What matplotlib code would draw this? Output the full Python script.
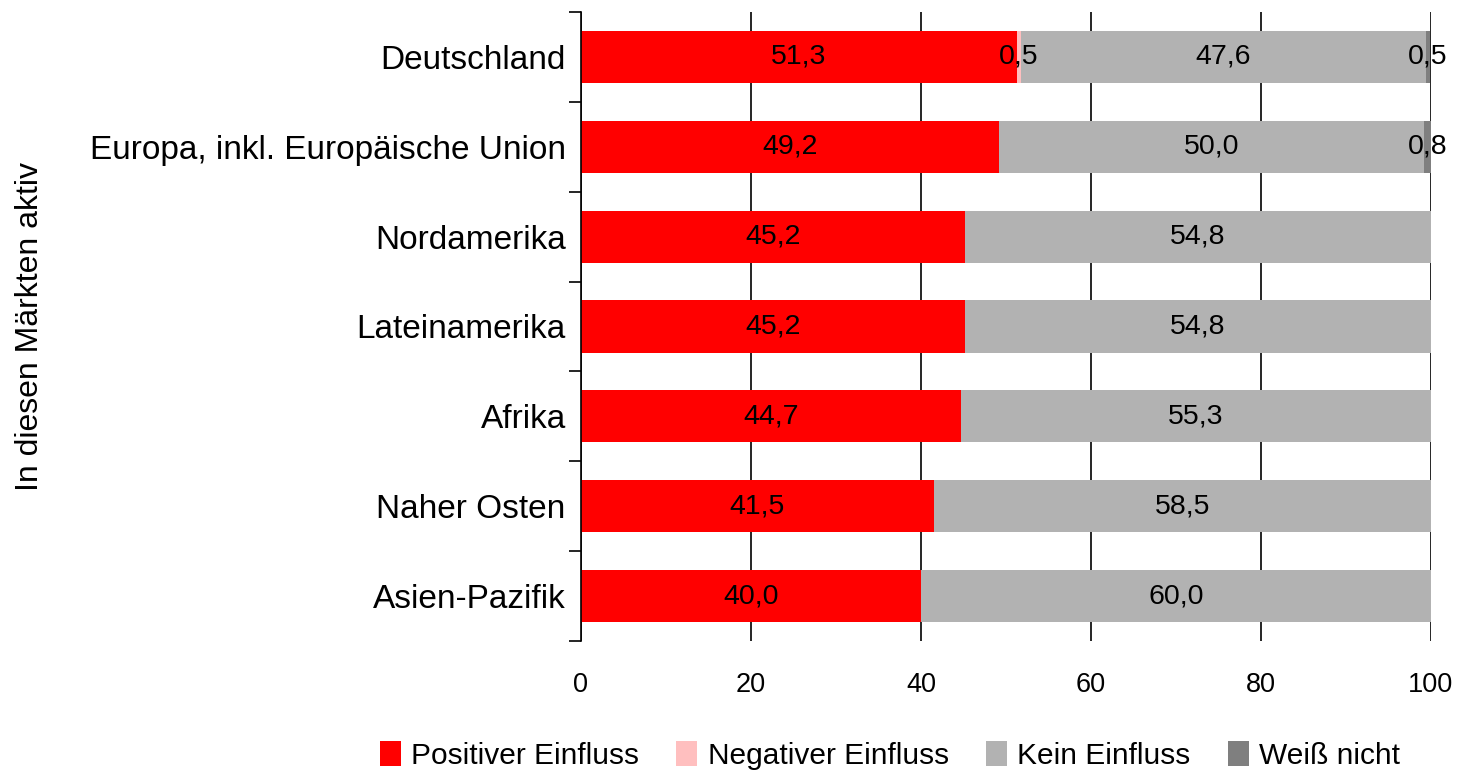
import matplotlib.pyplot as plt
import numpy as np

plt.rcParams['font.family'] = ['Liberation Sans', 'DejaVu Sans']

# Daten
maerkte = ['Deutschland', 'Europa, inkl. Europäische Union', 'Nordamerika',
           'Lateinamerika', 'Afrika', 'Naher Osten', 'Asien-Pazifik']
positiv = [51.3, 49.2, 45.2, 45.2, 44.7, 41.5, 40.0]
negativ = [0.5, 0.0, 0.0, 0.0, 0.0, 0.0, 0.0]
kein = [47.6, 50.0, 54.8, 54.8, 55.3, 58.5, 60.0]
weiss_nicht = [0.5, 0.8, 0.0, 0.0, 0.0, 0.0, 0.0]

serien = ['Positiver Einfluss', 'Negativer Einfluss', 'Kein Einfluss', 'Weiß nicht']
farben = ['#FF0000', '#FFBFBF', '#B2B2B2', '#7F7F7F']
x_ticks = [0, 20, 40, 60, 80, 100]

fig = plt.figure(figsize=(14.59, 7.71), dpi=100)
ax = fig.add_axes([581 / 1459, 1 - 641 / 771, 850 / 1459, 629 / 771])

y = np.arange(len(maerkte))
links = np.zeros(len(maerkte))
for name, werte, farbe in zip(serien, [positiv, negativ, kein, weiss_nicht], farben):
    werte = np.array(werte)
    ax.barh(y, werte, left=links, height=0.58, color=farbe, label=name, zorder=2)
    for yi, l, w in zip(y, links, werte):
        if w > 0:
            ax.text(l + w / 2, yi, f'{w:.1f}'.replace('.', ','), ha='center',
                    va='center', fontsize=20.5, zorder=3)
    links += werte

ax.set_ylim(len(maerkte) - 0.5, -0.5)
ax.set_xlim(0, 100)
ax.set_yticks(y)
ax.set_yticklabels(maerkte, fontsize=24)
ax.set_yticks(np.arange(-0.5, len(maerkte)), minor=True)
ax.tick_params(axis='y', which='major', length=0, pad=11)
ax.tick_params(axis='y', which='minor', length=9, width=1.2, direction='out')

ax.set_xticks(x_ticks)
ax.set_xticklabels([str(t) for t in x_ticks], fontsize=19.5)
ax.tick_params(axis='x', length=0, pad=22)
ax.grid(axis='x', color='black', linewidth=1.2, zorder=1)

for s in ['top', 'right', 'bottom']:
    ax.spines[s].set_visible(False)
ax.spines['left'].set_linewidth(1.2)

ax.set_ylabel('In diesen Märkten aktiv', fontsize=23)
ax.yaxis.set_label_coords(-536 / 850, 0.5)

fig.legend(loc='lower center', bbox_to_anchor=(0.61, -0.033), ncol=4,
           frameon=False, fontsize=21.5, handlelength=0.7, handleheight=0.9,
           handletextpad=0.35, columnspacing=1.25)

fig.savefig('out.png', dpi=100)
